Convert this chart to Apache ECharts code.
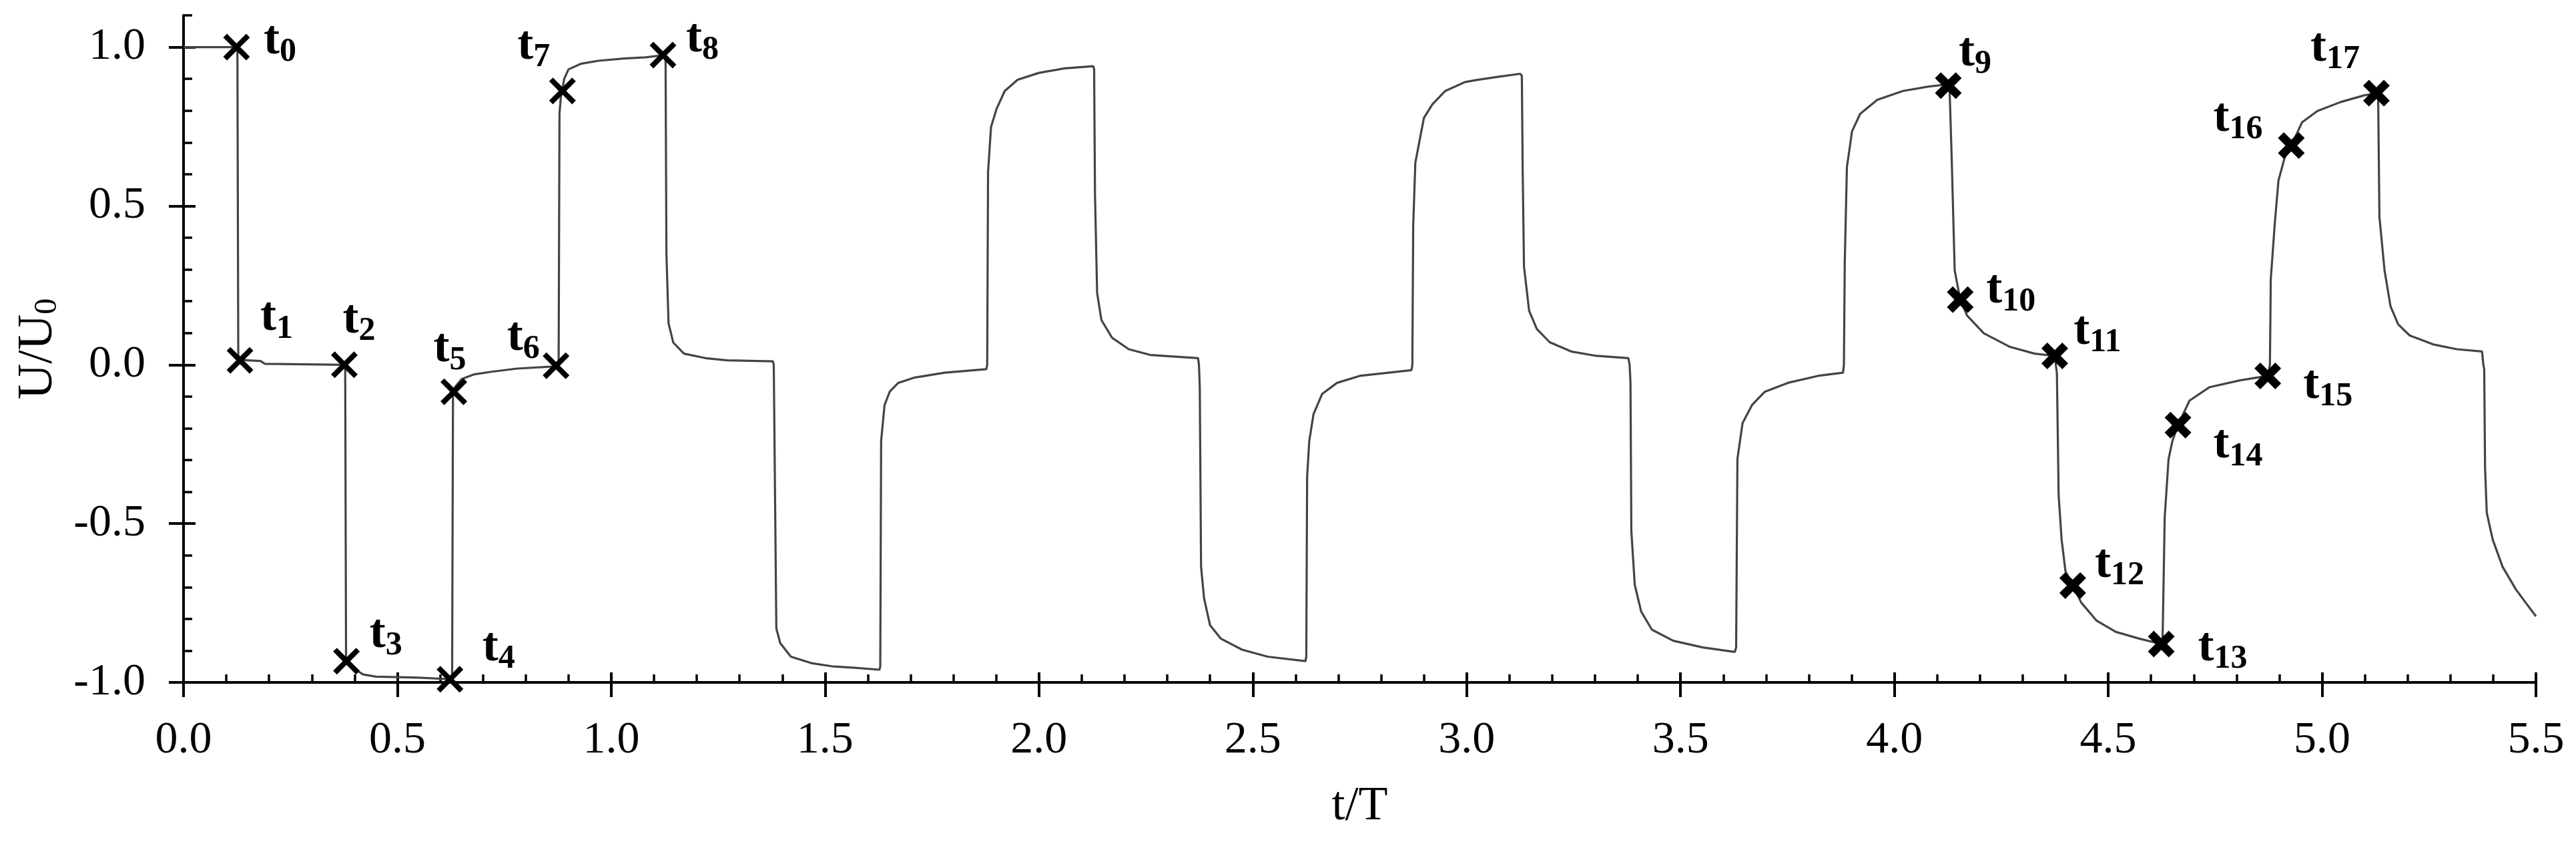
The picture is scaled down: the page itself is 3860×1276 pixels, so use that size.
<!DOCTYPE html>
<html>
<head>
<meta charset="utf-8">
<title>U/U0 vs t/T</title>
<script src="https://cdn.jsdelivr.net/npm/echarts@6.0.0/dist/echarts.min.js"></script>
<style>
  html, body { margin: 0; padding: 0; background: #fff; }
  #main { width: 3860px; height: 1276px; }
</style>
</head>
<body>
<div id="main"></div>
<script>
// measured waveform, one line per step of the signal
var waveT = [
  0.0, 0.124, 0.126,
  0.128, 0.135, 0.18, 0.19, 0.376,
  0.378, 0.380, 0.39, 0.42, 0.45, 0.55, 0.624,
  0.628, 0.630, 0.635, 0.65, 0.68, 0.72, 0.78, 0.872,
  0.877, 0.879, 0.882, 0.89, 0.90, 0.93, 0.97, 1.03, 1.08, 1.124,
  1.127, 1.129, 1.134, 1.145, 1.17, 1.22, 1.27, 1.378,
  1.380, 1.386, 1.395, 1.42, 1.47, 1.52, 1.57, 1.627,
  1.629, 1.631, 1.639, 1.651, 1.671, 1.710, 1.780, 1.877,
  1.879, 1.881, 1.888, 1.901, 1.920, 1.950, 2.0, 2.06, 2.127,
  2.129, 2.131, 2.136, 2.146, 2.171, 2.210, 2.260, 2.372,
  2.374, 2.376, 2.379, 2.386, 2.400, 2.425, 2.475, 2.535, 2.623,
  2.625, 2.627, 2.632, 2.642, 2.662, 2.697, 2.750, 2.871,
  2.873, 2.875, 2.880, 2.900, 2.920, 2.950, 2.996, 3.025, 3.075, 3.125,
  3.129, 3.131, 3.134, 3.146, 3.164, 3.194, 3.244, 3.303, 3.378,
  3.381, 3.383, 3.385, 3.393, 3.408, 3.433, 3.483, 3.552, 3.627,
  3.630, 3.633, 3.645, 3.667, 3.697, 3.751, 3.821, 3.880,
  3.882, 3.884, 3.889, 3.901, 3.920, 3.960, 4.020, 4.080, 4.126,
  4.129, 4.134, 4.141, 4.154, 4.170, 4.209, 4.269, 4.328, 4.375,
  4.380, 4.384, 4.391, 4.400, 4.417, 4.437, 4.473, 4.518, 4.572, 4.624,
  4.627, 4.632, 4.641, 4.650, 4.663, 4.690, 4.736, 4.808, 4.873,
  4.878, 4.880, 4.889, 4.898, 4.912, 4.928, 4.953, 4.989, 5.043, 5.098, 5.127,
  5.131, 5.134, 5.146, 5.160, 5.178, 5.205, 5.260, 5.315, 5.374,
  5.377, 5.379, 5.381, 5.385, 5.399, 5.422, 5.453, 5.476, 5.5
];
var waveU = [
  1.0, 1.0, 0.99,
  0.03, 0.015, 0.012, 0.003, 0.0,
  -0.01, -0.92, -0.95, -0.975, -0.982, -0.985, -0.99,
  -0.98, -0.10, -0.07, -0.045, -0.03, -0.022, -0.012, -0.005,
  0.0, 0.79, 0.84, 0.90, 0.93, 0.948, 0.957, 0.964, 0.968, 0.975,
  0.97, 0.35, 0.13, 0.07, 0.035, 0.021, 0.014, 0.011,
  0.0, -0.83, -0.876, -0.919, -0.94, -0.95, -0.954, -0.96,
  -0.95, -0.24, -0.127, -0.085, -0.057, -0.04, -0.025, -0.014,
  0.0, 0.608, 0.749, 0.806, 0.862, 0.897, 0.919, 0.933, 0.94,
  0.93, 0.537, 0.226, 0.141, 0.085, 0.049, 0.031, 0.021,
  0.0, -0.07, -0.636, -0.735, -0.82, -0.862, -0.897, -0.919, -0.933,
  -0.92, -0.353, -0.24, -0.155, -0.092, -0.057, -0.035, -0.017,
  0.0, 0.438, 0.636, 0.777, 0.82, 0.862, 0.89, 0.897, 0.907, 0.916,
  0.91, 0.608, 0.31, 0.17, 0.113, 0.071, 0.042, 0.028, 0.021,
  0.0, -0.057, -0.523, -0.693, -0.777, -0.834, -0.869, -0.89, -0.904,
  -0.89, -0.297, -0.184, -0.127, -0.085, -0.057, -0.035, -0.025,
  0.0, 0.325, 0.622, 0.735, 0.79, 0.834, 0.862, 0.876, 0.883,
  0.87, 0.65, 0.297, 0.205, 0.155, 0.099, 0.057, 0.035, 0.028,
  -0.028, -0.41, -0.551, -0.65, -0.695, -0.749, -0.806, -0.841, -0.862, -0.879,
  -0.87, -0.48, -0.297, -0.24, -0.19, -0.113, -0.071, -0.049, -0.035,
  0.0, 0.269, 0.438, 0.58, 0.65, 0.69, 0.763, 0.799, 0.827, 0.848, 0.855,
  0.85, 0.466, 0.297, 0.184, 0.127, 0.092, 0.064, 0.049, 0.042,
  0.0, -0.014, -0.325, -0.466, -0.551, -0.636, -0.707, -0.749, -0.792
];

// marked instants t0..t17
var markerT = [0.124, 0.132, 0.376, 0.381, 0.623, 0.632, 0.871, 0.886, 1.121,
               4.126, 4.154, 4.375, 4.417, 4.624, 4.663, 4.873, 4.928, 5.127];
var markerU = [1.0, 0.014, 0.0, -0.933, -0.99, -0.085, -0.003, 0.862, 0.975,
               0.879, 0.205, 0.028, -0.695, -0.879, -0.19, -0.035, 0.69, 0.855];
var markerSub = ['0', '1', '2', '3', '4', '5', '6', '7', '8',
                 '9', '10', '11', '12', '13', '14', '15', '16', '17'];

var yTicks = [-1.0, -0.5, 0.0, 0.5, 1.0];

// label placement around each cross (px)
var labelOffsets = [[65, -9], [55, -64], [22, -67], [59, -40], [73, -47], [-6, -64], [-49, -42], [-43, -67], [59, -24],
                    [40, -49], [76, -14], [64, -37], [70, -32], [92, 6], [90, 30], [90, 14], [-80, -41], [-62, -67]];

var font = 'Liberation Serif';
var thinX = 'path://M0,1.4L1.4,0L5,3.6L8.6,0L10,1.4L6.4,5L10,8.6L8.6,10L5,6.4L1.4,10L0,8.6L3.6,5Z';
var boldX = 'path://M0,2.2L2.2,0L5,2.8L7.8,0L10,2.2L7.2,5L10,7.8L7.8,10L5,7.2L2.2,10L0,7.8L2.8,5Z';

var waveData = [];
for (var i = 0; i < waveT.length; i++) {
  waveData.push([waveT[i], waveU[i]]);
}

function markerData(from, to) {
  var out = [];
  for (var k = from; k < to; k++) {
    out.push({
      value: [markerT[k], markerU[k]],
      sub: markerSub[k],
      label: { offset: labelOffsets[k] }
    });
  }
  return out;
}

var markerLabel = {
  show: true,
  position: 'inside',
  align: 'center',
  verticalAlign: 'middle',
  formatter: function (p) {
    return '{t|t}{s|' + p.data.sub + '}';
  },
  rich: {
    t: { fontFamily: font, fontWeight: 'bold', fontSize: 72, color: '#000' },
    s: { fontFamily: font, fontWeight: 'bold', fontSize: 50, color: '#000', padding: [34, 0, 0, 0] }
  }
};

var black = '#000';
var myChart = echarts.init(document.getElementById('main'));

var option = {
  animation: false,
  backgroundColor: '#fff',
  grid: {
    left: 275,
    right: 60,
    top: 23,
    bottom: 254,
    containLabel: false,
    outerBoundsMode: 'none'
  },
  xAxis: [
    {
      type: 'value',
      position: 'bottom',
      min: 0,
      max: 5.5,
      interval: 0.5,
      axisLine: { show: true, onZero: false, lineStyle: { color: black, width: 4 } },
      axisTick: { show: true, inside: false, length: 22, lineStyle: { color: black, width: 4 } },
      splitLine: { show: false },
      axisLabel: {
        margin: 53,
        fontFamily: font,
        fontSize: 68,
        color: black,
        formatter: function (v) { return v.toFixed(1); }
      },
      name: 't/T',
      nameLocation: 'middle',
      nameGap: 150,
      nameTextStyle: { fontFamily: font, fontSize: 72, color: black }
    },
    {
      // inner ticks (major + minor)
      type: 'value',
      position: 'bottom',
      min: 0,
      max: 5.5,
      interval: 0.5,
      axisLine: { show: false, onZero: false },
      axisTick: { show: true, inside: true, length: 15, lineStyle: { color: black, width: 4 } },
      minorTick: { show: true, splitNumber: 5, length: 12, lineStyle: { color: black, width: 3.5 } },
      splitLine: { show: false },
      minorSplitLine: { show: false },
      axisLabel: { show: false }
    }
  ],
  yAxis: [
    {
      type: 'value',
      position: 'left',
      min: -1.0,
      max: 1.1,
      interval: 0.5,
      axisLine: { show: true, onZero: false, lineStyle: { color: black, width: 4 } },
      axisTick: { show: true, inside: false, length: 22, customValues: yTicks, lineStyle: { color: black, width: 4 } },
      splitLine: { show: false },
      axisLabel: {
        margin: 57,
        fontFamily: font,
        fontSize: 68,
        color: black,
        customValues: yTicks,
        formatter: function (v) { return v.toFixed(1); }
      },
      name: '{a|U/U}{b|0}',
      nameLocation: 'middle',
      nameGap: 180,
      nameTextStyle: {
        color: black,
        rich: {
          a: { fontFamily: font, fontSize: 74, color: black },
          b: { fontFamily: font, fontSize: 48, color: black, padding: [26, 0, 0, 0] }
        }
      }
    },
    {
      type: 'value',
      position: 'left',
      min: -1.0,
      max: 1.1,
      interval: 0.1,
      axisLine: { show: false, onZero: false },
      axisTick: { show: true, inside: true, length: 13, lineStyle: { color: black, width: 3.5 } },
      splitLine: { show: false },
      axisLabel: { show: false }
    },
    {
      type: 'value',
      position: 'left',
      min: -1.0,
      max: 1.1,
      interval: 0.5,
      axisLine: { show: false, onZero: false },
      axisTick: { show: true, inside: true, length: 18, customValues: yTicks, lineStyle: { color: black, width: 4 } },
      splitLine: { show: false },
      axisLabel: { show: false }
    }
  ],
  series: [
    {
      type: 'line',
      xAxisIndex: 0,
      yAxisIndex: 0,
      data: waveData,
      showSymbol: false,
      symbol: 'none',
      silent: true,
      lineStyle: { color: '#444', width: 3.2 },
      z: 2
    },
    {
      type: 'scatter',
      xAxisIndex: 0,
      yAxisIndex: 0,
      symbol: thinX,
      symbolSize: 40,
      itemStyle: { color: black, opacity: 1 },
      label: markerLabel,
      data: markerData(0, 9),
      z: 5
    },
    {
      type: 'scatter',
      xAxisIndex: 0,
      yAxisIndex: 0,
      symbol: boldX,
      symbolSize: 40,
      itemStyle: { color: black, opacity: 1 },
      label: markerLabel,
      data: markerData(9, 18),
      z: 5
    }
  ]
};

myChart.setOption(option);
</script>
</body>
</html>
